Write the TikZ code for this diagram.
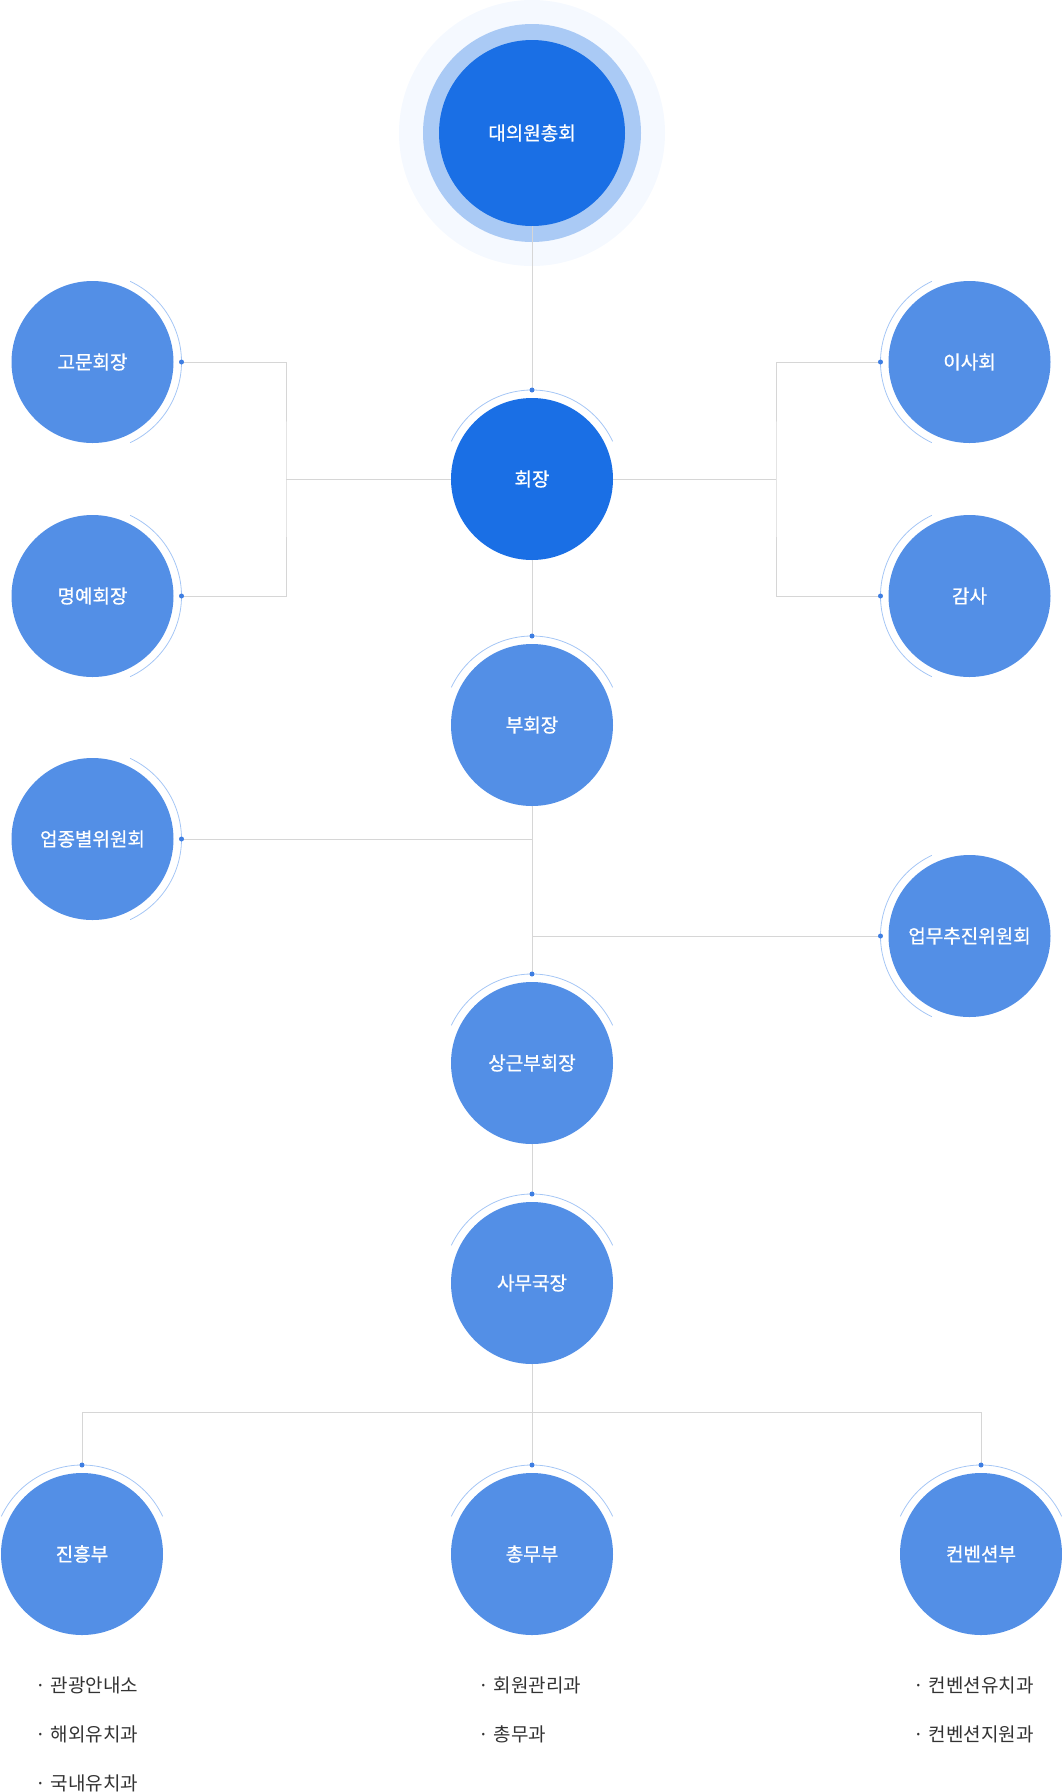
\documentclass[tikz,border=0pt]{standalone}
\usepackage{fontspec}
\setmainfont{Noto Sans CJK KR}
\newfontfamily\labelfont{Noto Sans CJK KR}[FakeBold=0.8]
\definecolor{deepblue}{RGB}{26,111,229}
\definecolor{midblue}{RGB}{83,143,230}
\definecolor{halomid}{RGB}{170,202,245}
\definecolor{haloouter}{RGB}{245,249,255}
\definecolor{arcblue}{RGB}{165,198,245}
\definecolor{dotblue}{RGB}{62,126,226}
\definecolor{linegray}{RGB}{214,214,214}
\definecolor{textgray}{RGB}{51,51,51}
\begin{document}
\begin{tikzpicture}[x=1pt,y=-1pt,
    unit/.style={circle,fill=midblue,text=white,minimum size=162pt,inner sep=0pt,
      font=\labelfont\fontsize{19}{22}\selectfont},
    head/.style={unit,fill=deepblue},
    dot/.style={circle,fill=dotblue,minimum size=5pt,inner sep=0pt},
    link/.style={draw=linegray,line width=1pt},
    halfring/.style={draw=arcblue,line width=0.8pt},
    item/.style={anchor=west,text=textgray,inner sep=0pt,font=\fontsize{19}{22}\selectfont}]
    \useasboundingbox (0,0) rectangle (1062,1792);

    % top assembly with halo
    \fill[haloouter] (532,133) circle[radius=133];
    \fill[halomid] (532,133) circle[radius=109];
    \path (532,133) node[head,minimum size=186pt] (assembly) {대의원총회};

    \path (532,479) node[head] (chair) {회장};
    \path (92.5,362) node[unit] (adviser) {고문회장};
    \path (92.5,596) node[unit] (honorary) {명예회장};
    \path (969.5,362) node[unit] (board) {이사회};
    \path (969.5,596) node[unit] (auditor) {감사};
    \path (532,725) node[unit] (vice) {부회장};
    \path (92.5,839) node[unit] (industry) {업종별위원회};
    \path (969.5,936) node[unit] (promo) {업무추진위원회};
    \path (532,1063) node[unit] (standing) {상근부회장};
    \path (532,1283) node[unit] (secretary) {사무국장};
    \path (82,1554) node[unit] (jinheung) {진흥부};
    \path (532,1554) node[unit] (chongmu) {총무부};
    \path (981,1554) node[unit] (convention) {컨벤션부};

    % thin arcs
    \foreach \n in {chair,vice,standing,secretary,jinheung,chongmu,convention}
      \draw[halfring] (\n.center) ++(205:89) arc[start angle=205,end angle=335,radius=89];
    \foreach \n in {adviser,honorary,industry}
      \draw[halfring] (\n.center) ++(-65:89) arc[start angle=-65,end angle=65,radius=89];
    \foreach \n in {board,auditor,promo}
      \draw[halfring] (\n.center) ++(115:89) arc[start angle=115,end angle=245,radius=89];

    % joints
    \coordinate (lefthub) at (286,479);
    \coordinate (righthub) at (776,479);
    \coordinate (industryjoin) at (532,839);
    \coordinate (promojoin) at (532,936);
    \coordinate (deptbar) at (532,1412);

    % lines
    \draw[link] (assembly) -- (532,390);
    \draw[link] (chair) -- (lefthub);
    \draw[link] (181.5,362) -| (lefthub) |- (181.5,596);
    \draw[link] (chair) -- (righthub);
    \draw[link] (880.5,362) -| (righthub) |- (880.5,596);
    \draw[link] (chair) -- (532,636);
    \draw[link] (vice) -- (532,974);
    \draw[link] (181.5,839) -- (industryjoin);
    \draw[link] (promojoin) -- (880.5,936);
    \draw[link] (standing) -- (532,1194);
    \draw[link] (secretary) -- (deptbar);
    \draw[link] (82,1465) |- (deptbar) -| (981,1465);
    \draw[link] (deptbar) -- (532,1465);

    % dots on the arcs
    \path (532,390) node[dot] (chairdot) {};
    \path (532,636) node[dot] (vicedot) {};
    \path (532,974) node[dot] (standingdot) {};
    \path (532,1194) node[dot] (secretarydot) {};
    \path (82,1465) node[dot] (jinheungdot) {};
    \path (532,1465) node[dot] (chongmudot) {};
    \path (981,1465) node[dot] (conventiondot) {};
    \path (181.5,362) node[dot] (adviserdot) {};
    \path (181.5,596) node[dot] (honorarydot) {};
    \path (181.5,839) node[dot] (industrydot) {};
    \path (880.5,362) node[dot] (boarddot) {};
    \path (880.5,596) node[dot] (auditordot) {};
    \path (880.5,936) node[dot] (promodot) {};

    % sections
    \path (35.5,1685) node[item] (tour) {· 관광안내소};
    \path (35.5,1734) node[item] (overseas) {· 해외유치과};
    \path (35.5,1783) node[item] (domestic) {· 국내유치과};
    \path (478.5,1685) node[item] (members) {· 회원관리과};
    \path (478.5,1734) node[item] (affairs) {· 총무과};
    \path (913.5,1685) node[item] (attract) {· 컨벤션유치과};
    \path (913.5,1734) node[item] (support) {· 컨벤션지원과};
  \end{tikzpicture}
\end{document}
